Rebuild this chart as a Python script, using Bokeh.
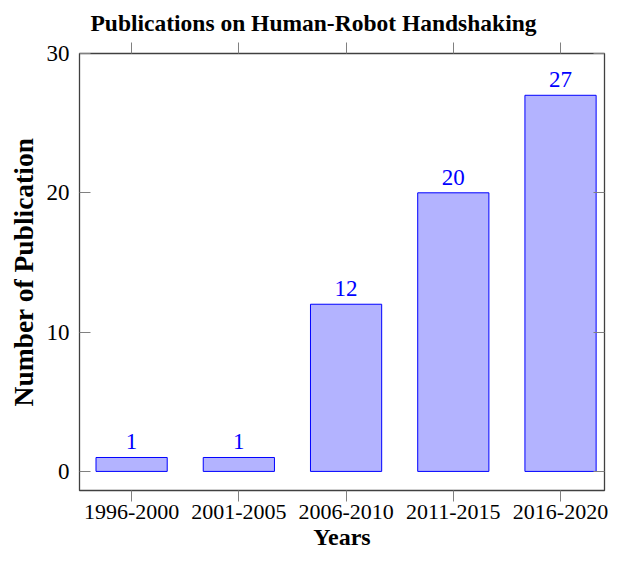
from bokeh.plotting import figure
from bokeh.models import (Range1d, FixedTicker, LinearAxis, ColumnDataSource, LabelSet,
                          CustomLabelingPolicy)
from bokeh.core.properties import value
from bokeh.embed import file_html
from bokeh.resources import INLINE

categories = ["1996-2000", "2001-2005", "2006-2010", "2011-2015", "2016-2020"]
publications = [1, 1, 12, 20, 27]
y_ticks = [0, 10, 20, 30]
title_text = "Publications on Human-Robot Handshaking"
x_title = "Years"
y_title = "Number of Publication"

x_pos = list(range(len(categories)))
src = ColumnDataSource(dict(x=x_pos, top=publications,
                            label=[str(v) for v in publications]))

FONT = "Liberation Serif"
FRAME = "#404040"
TICK = "#808080"

p = figure(width=608, height=554,
           x_range=Range1d(-0.486, 4.41), y_range=Range1d(-1.37, 30.0),
           output_backend="svg", toolbar_location=None,
           title=title_text,
           min_border_left=79, min_border_right=0,
           min_border_top=53, min_border_bottom=64)

p.title.text_font = FONT
p.title.text_font_size = "23.5px"
p.title.text_font_style = "bold"
p.title.align = "left"
p.title.offset = 11
p.title.standoff = 6
p.title.text_color = "black"

p.xgrid.visible = False
p.ygrid.visible = False
p.outline_line_color = FRAME
p.outline_line_width = 1.3
p.background_fill_color = "white"
p.border_fill_color = "white"

xa = p.xaxis[0]
xa.ticker = FixedTicker(ticks=x_pos)
xa.major_label_overrides = {i: c for i, c in enumerate(categories)}
xa.major_tick_in = 0
xa.major_tick_out = 11
xa.minor_tick_line_color = None
xa.axis_line_color = None
xa.major_tick_line_color = TICK
xa.major_label_standoff = 3
xa.major_label_text_font = FONT
xa.major_label_text_font_size = "22px"
xa.major_label_text_color = "black"
xa.axis_label = x_title
xa.axis_label_text_font = FONT
xa.axis_label_text_font_size = "24px"
xa.axis_label_text_font_style = "bold"
xa.axis_label_text_color = "black"
xa.axis_label_standoff = 2

ya = p.yaxis[0]
ya.ticker = FixedTicker(ticks=y_ticks)
ya.major_tick_in = 11
ya.major_tick_out = 0
ya.minor_tick_line_color = None
ya.axis_line_color = None
ya.major_tick_line_color = TICK
ya.major_label_standoff = 10
ya.major_label_text_font = FONT
ya.major_label_text_font_size = "23px"
ya.major_label_text_color = "black"
ya.axis_label = y_title
ya.axis_label_text_font = FONT
ya.axis_label_text_font_size = "27.5px"
ya.axis_label_text_font_style = "bold"
ya.axis_label_text_color = "black"
ya.axis_label_standoff = 5

no_labels = CustomLabelingPolicy(code="return []")

top_axis = LinearAxis(ticker=FixedTicker(ticks=x_pos), major_tick_in=0, major_tick_out=11,
                      minor_tick_line_color=None, axis_line_color=None,
                      major_tick_line_color=TICK, major_label_text_font_size="1px",
                      major_label_standoff=0, major_label_policy=no_labels)
p.add_layout(top_axis, "above")

right_axis = LinearAxis(ticker=FixedTicker(ticks=y_ticks), major_tick_in=11, major_tick_out=0,
                        minor_tick_line_color=None, axis_line_color=None,
                        major_tick_line_color=TICK, major_label_text_font_size="1px",
                        major_label_standoff=0, major_label_policy=no_labels)
p.add_layout(right_axis, "right")

p.vbar(x="x", top="top", bottom=0, width=0.664, source=src,
       fill_color="#b3b3ff", line_color="#0000ff", line_width=1)

labels = LabelSet(x="x", y="top", text="label", source=src, y_offset=8,
                  text_align="center", text_baseline="alphabetic",
                  text_color="#0000ff", text_font=value(FONT), text_font_size="23px")
p.add_layout(labels)

open("out.html", "w").write(file_html(p, INLINE))
